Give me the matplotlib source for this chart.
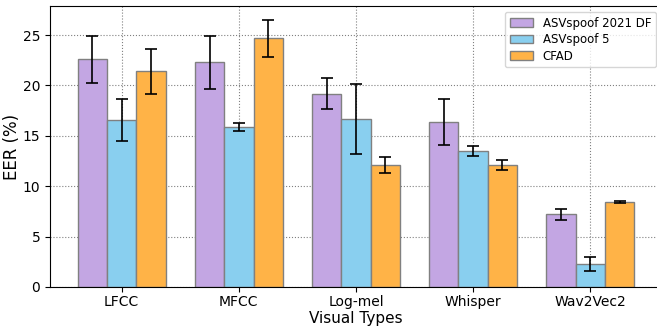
import numpy as np
import matplotlib.pyplot as plt

features = ["LFCC", "MFCC", "Log-mel", "Whisper", "Wav2Vec2"]
datasets = ["ASVspoof 2021 DF", "ASVspoof 5", "CFAD"]

eer_df21 = [22.6, 22.3, 19.2, 16.4, 7.2]
err_df21 = [2.35, 2.6, 1.5, 2.3, 0.55]
eer_asv5 = [16.6, 15.9, 16.7, 13.5, 2.3]
err_asv5 = [2.1, 0.4, 3.45, 0.5, 0.7]
eer_cfad = [21.4, 24.7, 12.1, 12.1, 8.4]
err_cfad = [2.2, 1.85, 0.8, 0.5, 0.1]

colors = ["#C3A6E3", "#89CFEF", "#FFB347"]

fig, ax = plt.subplots(figsize=(6.57, 3.28), dpi=100)
# the original was cropped a bit on the right, so the axes runs past the edge
fig.subplots_adjust(left=0.0761, right=1.0076, top=0.982, bottom=0.125)

x = np.arange(len(features))
w = 0.25
series = [(eer_df21, err_df21), (eer_asv5, err_asv5), (eer_cfad, err_cfad)]
for i, (vals, errs) in enumerate(series):
    ax.bar(x + (i - 1) * w, vals, w, yerr=errs, capsize=4,
           color=colors[i], edgecolor="gray", linewidth=1.0,
           label=datasets[i], zorder=2,
           error_kw=dict(ecolor="black", elinewidth=1.2, capthick=1.2))

ax.set_xticks(x)
ax.set_xticklabels(features, fontsize=10)
ax.tick_params(axis="x", pad=2.5)
ax.tick_params(axis="y", labelsize=10)
ax.set_ylim(0, 27.9)
ax.set_yticks([0, 5, 10, 15, 20, 25])
ax.set_xlabel("Visual Types", fontsize=11, labelpad=1)
ax.set_ylabel("EER (%)", fontsize=12, labelpad=1)
ax.grid(True, linestyle=":", color="gray", linewidth=0.8, zorder=0)
ax.set_axisbelow(True)
ax.legend(loc="upper right", fontsize=8.5, labelspacing=0.3)

plt.savefig("out.png", dpi=100)
